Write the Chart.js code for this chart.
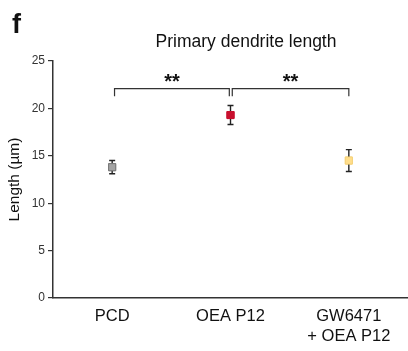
<!DOCTYPE html>
<html>
<head>
<meta charset="utf-8">
<script src="https://cdn.jsdelivr.net/npm/chart.js@4"></script>
<style>
  html, body { margin: 0; padding: 0; background: #fff; }
  #wrap { width: 408px; height: 351px; position: relative; }
</style>
</head>
<body>
<div id="wrap"><canvas id="c" width="408" height="351"></canvas></div>
<script>
// ── Datos ───────────────────────────────────────────────────
var grupos     = ['PCD', 'OEA P12', ['GW6471', '+ OEA P12']];
var medias     = [13.8, 19.3, 14.5];
var errores    = [0.7, 1.0, 1.15];
var colores    = ['#a3a3a3', '#c8102e', '#ffde8c'];
var bordes     = ['#7a7a7a', '#c8102e', '#f5d27a'];
var yTicks     = [0, 5, 10, 15, 20, 25];

// Brackets de significancia: desde, hasta, altura, etiqueta
var sigDesde   = [0.02, 1.015];
var sigHasta   = [0.99, 2.0];
var sigAltura  = [22.08, 22.08];
var sigBajada  = 0.8;
var sigTexto   = ['**', '**'];

var FUENTE = '"Liberation Sans", Arial, sans-serif';

// ── Plugin: barras de error, brackets, título y letra del panel ──
var extras = {
  id: 'extras',
  afterDatasetsDraw: function(chart) {
    var ctx = chart.ctx;
    var x = chart.scales.x, y = chart.scales.y;
    ctx.save();
    ctx.strokeStyle = '#222';
    ctx.lineWidth = 1.4;
    medias.forEach(function(m, i) {
      var px = x.getPixelForValue(i);
      var top = y.getPixelForValue(m + errores[i]);
      var bot = y.getPixelForValue(m - errores[i]);
      ctx.beginPath();
      ctx.moveTo(px, top); ctx.lineTo(px, bot);
      ctx.moveTo(px - 3, top); ctx.lineTo(px + 3, top);
      ctx.moveTo(px - 3, bot); ctx.lineTo(px + 3, bot);
      ctx.stroke();
    });
    // redibujar marcadores encima de las barras
    chart.getDatasetMeta(0).data.forEach(function(pt) { pt.draw(ctx, chart.chartArea); });

    ctx.strokeStyle = '#333';
    ctx.lineWidth = 1.2;
    ctx.fillStyle = '#111';
    ctx.font = 'bold 20px ' + FUENTE;
    ctx.textAlign = 'center';
    ctx.textBaseline = 'alphabetic';
    sigDesde.forEach(function(d, i) {
      var x1 = x.getPixelForValue(d), x2 = x.getPixelForValue(sigHasta[i]);
      var yy = y.getPixelForValue(sigAltura[i]);
      var yb = y.getPixelForValue(sigAltura[i] - sigBajada);
      ctx.beginPath();
      ctx.moveTo(x1, yb); ctx.lineTo(x1, yy); ctx.lineTo(x2, yy); ctx.lineTo(x2, yb);
      ctx.stroke();
      ctx.fillText(sigTexto[i], (x1 + x2) / 2, yy - 1);
    });

    ctx.fillStyle = '#111';
    ctx.font = '17.5px ' + FUENTE;
    ctx.textBaseline = 'middle';
    ctx.fillText('Primary dendrite length', 246, 42);
    ctx.textAlign = 'left';
    ctx.textBaseline = 'alphabetic';
    ctx.font = 'bold 27px ' + FUENTE;
    ctx.fillText('f', 12, 33);
    ctx.restore();
  }
};

new Chart(document.getElementById('c'), {
  type: 'line',
  data: {
    labels: grupos,
    datasets: [{
      data: medias,
      showLine: false,
      pointStyle: 'rect',
      pointRadius: 5,
      pointHoverRadius: 5,
      pointBackgroundColor: colores,
      pointBorderColor: bordes,
      pointBorderWidth: 1
    }]
  },
  options: {
    responsive: false,
    animation: false,
    layout: { autoPadding: false, padding: { top: 61, left: 0, right: 0, bottom: 0 } },
    plugins: { legend: { display: false }, tooltip: { enabled: false } },
    scales: {
      x: {
        offset: true,
        grid: { display: false, drawTicks: false },
        border: { display: true, color: '#333', width: 1.5 },
        ticks: { color: '#111', font: { family: FUENTE, size: 16.5 }, padding: 9, maxRotation: 0 },
        afterFit: function(s) { s.height = 53; s.paddingLeft = 0; s.paddingRight = 0; }
      },
      y: {
        min: 0, max: 25,
        afterBuildTicks: function(s) { s.ticks = yTicks.map(function(v) { return { value: v }; }); },
        grid: { drawOnChartArea: false, tickLength: 5, color: '#333', lineWidth: 1.2 },
        border: { display: true, color: '#333', width: 1.5 },
        ticks: { color: '#333', font: { family: FUENTE, size: 12 }, padding: 3 },
        title: { display: true, text: 'Length (µm)', color: '#111', font: { family: FUENTE, size: 15.5 }, padding: { top: 5, bottom: 0 } },
        afterFit: function(s) { s.width = 53; }
      }
    }
  },
  plugins: [extras]
});
</script>
</body>
</html>
